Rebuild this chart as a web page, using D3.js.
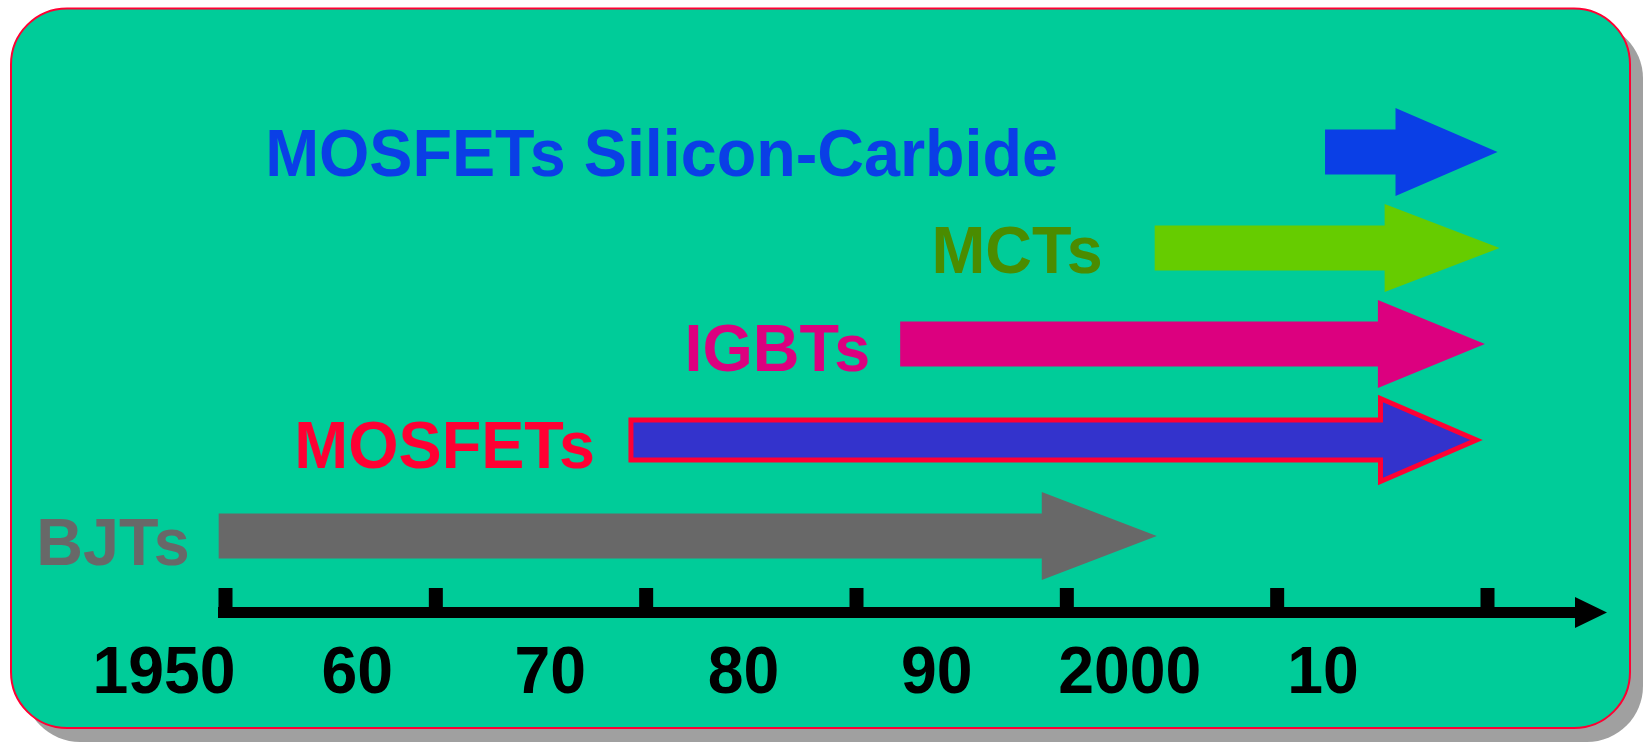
<!DOCTYPE html>
<html>
<head>
<meta charset="utf-8">
<title>Power semiconductor device timeline</title>
<script src="https://cdn.jsdelivr.net/npm/d3@7/dist/d3.min.js"></script>
<style>
  html, body { margin: 0; padding: 0; background: #ffffff; }
  svg { display: block; }
  text { font-family: "Liberation Sans", Arial, sans-serif; font-weight: bold; }
</style>
</head>
<body>
<svg id="chart" width="1644" height="743"></svg>
<script>
// Device families and the span of years each one covers (arrow start -> arrow tip)
const devices    = ["MOSFETs Silicon-Carbide", "MCTs", "IGBTs", "MOSFETs", "BJTs"];
const startYears = [2002.3, 1994.2, 1982.1, 1969.3, 1949.7];
const endYears   = [2010.5, 2010.6, 2009.9, 2009.5, 1994.3];

// Time axis
const tickYears  = [1950, 1960, 1970, 1980, 1990, 2000, 2010];
const tickLabels = ["1950", "60", "70", "80", "90", "2000", "10"];

// Styling per device (gap = space between name and arrow, headL = arrowhead length)
const styles = {
  "MOSFETs Silicon-Carbide": { text: "#0A3FE6", fill: "#0A3FE6", stroke: null,      sw: 0, gap: 267, headL: 102 },
  "MCTs":                    { text: "#4A8C00", fill: "#66CC00", stroke: null,      sw: 0, gap: 52,  headL: 115 },
  "IGBTs":                   { text: "#DC007F", fill: "#DC007F", stroke: null,      sw: 0, gap: 30,  headL: 107 },
  "MOSFETs":                 { text: "#FF0033", fill: "#3333CC", stroke: "#FF0033", sw: 5, gap: 36,  headL: 96 },
  "BJTs":                    { text: "#686868", fill: "#686868", stroke: null,      sw: 0, gap: 29,  headL: 115 }
};

const svg = d3.select("#chart");

// Panel: drop shadow + rounded green board with thin red outline
const panel = { x: 11, y: 8.5, w: 1619, h: 719.5, r: 56 };
svg.append("rect")
  .attr("x", panel.x + 13).attr("y", panel.y + 14)
  .attr("width", panel.w).attr("height", panel.h)
  .attr("rx", panel.r).attr("ry", panel.r)
  .attr("fill", "#A0A0A0");
svg.append("rect")
  .attr("x", panel.x).attr("y", panel.y)
  .attr("width", panel.w).attr("height", panel.h)
  .attr("rx", panel.r).attr("ry", panel.r)
  .attr("fill", "#00CC99")
  .attr("stroke", "#FF0033").attr("stroke-width", 2);

// Scales
const x = d3.scaleLinear().domain([1950, 2010]).range([225, 1487]);
const rowY = d3.scalePoint().domain(devices).range([152, 536]);
const labelY = d3.scalePoint().domain(devices).range([176, 565]);
const yearLabelX = d3.scalePoint().domain(tickLabels).range([164, 1323]);

// Block arrow outline
function arrowPath(x0, x1, cy, shaftH, headH, headL) {
  const xb = x1 - headL;
  return `M${x0},${cy - shaftH / 2}L${xb},${cy - shaftH / 2}L${xb},${cy - headH / 2}` +
         `L${x1},${cy}L${xb},${cy + headH / 2}L${xb},${cy + shaftH / 2}L${x0},${cy + shaftH / 2}Z`;
}

const rows = devices.map((d, i) => ({ name: d, start: startYears[i], end: endYears[i], style: styles[d] }));

// Arrows
svg.append("g").selectAll("path")
  .data(rows)
  .join("path")
  .attr("d", d => {
    const sw = d.style.sw;
    return arrowPath(x(d.start), x(d.end), rowY(d.name), 45 - sw, 88 - sw, d.style.headL);
  })
  .attr("fill", d => d.style.fill)
  .attr("stroke", d => d.style.stroke || "none")
  .attr("stroke-width", d => d.style.sw)
  .attr("stroke-linejoin", "miter")
  .attr("stroke-miterlimit", 10);

// Device names, right-aligned ahead of each arrow
svg.append("g").selectAll("g")
  .data(rows)
  .join("g")
  .attr("transform", d => `translate(${x(d.start) - d.style.gap},${labelY(d.name)}) scale(0.98,1)`)
  .append("text")
  .attr("text-anchor", "end")
  .attr("font-size", 66)
  .attr("fill", d => d.style.text)
  .text(d => d.name);

// Time axis: thick line with block ticks and an arrowhead
const axisY = 612.5;
const axisG = svg.append("g").attr("transform", `translate(0,${axisY})`);
const lineEnd = x(2010) + 90;
axisG.append("path")
  .attr("d", `M${x(1950) - 7},0H${lineEnd}`)
  .attr("stroke", "#000").attr("stroke-width", 11).attr("fill", "none");
axisG.append("path")
  .attr("d", `M${lineEnd - 2},-15.5L${x(2010) + 120},0L${lineEnd - 2},15.5Z`)
  .attr("fill", "#000");

const axis = d3.axisTop(x)
  .tickValues(tickYears)
  .tickSizeInner(24.5)
  .tickSizeOuter(0)
  .tickFormat("");
const ticks = axisG.append("g").call(axis);
ticks.select(".domain").remove();
ticks.selectAll(".tick line")
  .attr("stroke", "#000").attr("stroke-width", 14);

// Decade labels beneath the axis
svg.append("g").selectAll("g")
  .data(tickLabels)
  .join("g")
  .attr("transform", d => `translate(${yearLabelX(d)},693) scale(0.96,1)`)
  .append("text")
  .attr("text-anchor", "middle")
  .attr("font-size", 67)
  .attr("fill", "#000")
  .text(d => d);
</script>
</body>
</html>
